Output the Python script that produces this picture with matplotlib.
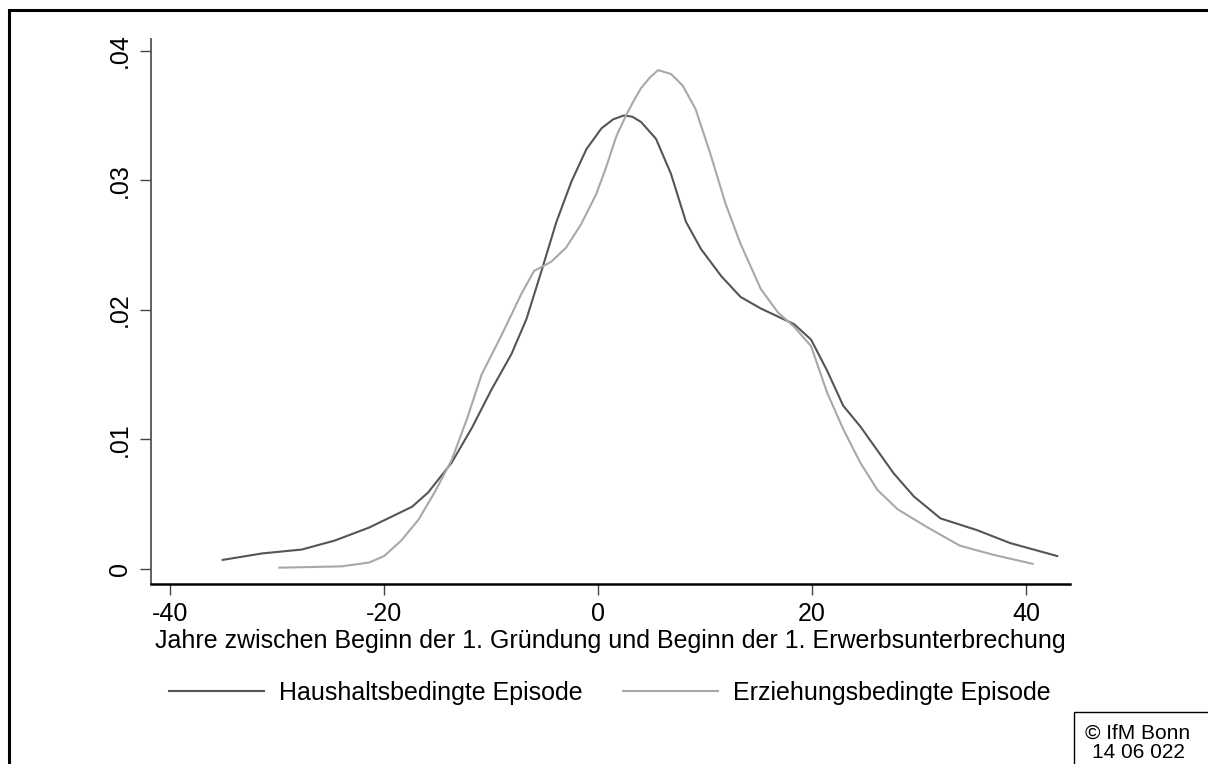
import matplotlib
matplotlib.use("Agg")
from matplotlib import pyplot as plt
from matplotlib.patches import Rectangle

# Kerndichte: Haushaltsbedingte Episode (dunkel)
haushalt_x = [-35.1, -31.4, -27.7, -24.6, -21.4, -17.4, -15.9, -13.7, -11.8, -10.0,
              -8.1, -6.7, -5.3, -3.9, -2.5, -1.1, 0.3, 1.4, 2.4, 3.2, 4.0,
              5.4, 6.8, 8.2, 9.6, 11.5, 13.3, 15.2, 18.3, 19.9, 21.4,
              22.9, 24.5, 27.6, 29.5, 32.0, 35.4, 38.5, 42.9]
haushalt_y = [0.0007, 0.0012, 0.0015, 0.0022, 0.0032, 0.0048, 0.0059, 0.0082, 0.0109, 0.0138,
              0.0166, 0.0193, 0.0230, 0.0268, 0.0299, 0.0324, 0.0340, 0.0347, 0.0350, 0.0349, 0.0345,
              0.0332, 0.0305, 0.0268, 0.0247, 0.0226, 0.0210, 0.0201, 0.0189, 0.0177, 0.0153,
              0.0126, 0.0110, 0.0074, 0.0056, 0.0039, 0.0030, 0.0020, 0.0010]

# Kerndichte: Erziehungsbedingte Episode (hell)
erziehung_x = [-29.8, -24.0, -21.4, -20.0, -18.4, -16.8, -15.3, -13.7, -12.3, -10.9,
               -9.0, -7.2, -6.0, -4.4, -3.0, -1.6, -0.2, 0.7, 1.7, 2.6, 3.3,
               4.0, 4.8, 5.6, 6.8, 7.9, 9.1, 10.5, 11.9, 13.3, 15.2, 16.8,
               18.3, 19.9, 21.4, 22.9, 24.5, 26.1, 28.0, 30.8, 33.8, 36.9, 40.6]
erziehung_y = [0.0001, 0.0002, 0.0005, 0.0010, 0.0022, 0.0038, 0.0059, 0.0084, 0.0115, 0.0150,
               0.0181, 0.0212, 0.0230, 0.0237, 0.0248, 0.0266, 0.0289, 0.0309, 0.0334, 0.0350, 0.0361,
               0.0371, 0.0379, 0.0385, 0.0382, 0.0373, 0.0355, 0.0320, 0.0282, 0.0251, 0.0216, 0.0198,
               0.0187, 0.0172, 0.0136, 0.0108, 0.0082, 0.0061, 0.0046, 0.0032, 0.0018, 0.0011, 0.0004]

x_ticks = [-40, -20, 0, 20, 40]
y_ticks = [0, 0.01, 0.02, 0.03, 0.04]
y_labels = ["0", ".01", ".02", ".03", ".04"]

plt.rcParams['font.family'] = ['Liberation Sans', 'DejaVu Sans']
plt.rcParams['axes.unicode_minus'] = False
fs = 18

fig = plt.figure(figsize=(12.08, 7.64), dpi=100)
ax = fig.add_axes([151 / 1208, 1 - 584 / 764, (1070 - 151) / 1208, (584 - 39) / 764])

ax.plot(haushalt_x, haushalt_y, color="#555555", lw=1.5, label="Haushaltsbedingte Episode")
ax.plot(erziehung_x, erziehung_y, color="#a8a8a8", lw=1.5, label="Erziehungsbedingte Episode")

ax.set_xlim(-41.8, 44.1)
ax.set_ylim(-0.00116, 0.0409)
ax.set_xticks(x_ticks)
ax.set_yticks(y_ticks)
ax.set_yticklabels(y_labels, rotation=90, va="center")
ax.tick_params(axis="both", labelsize=fs, length=8, width=1, color="#444444")
ax.tick_params(axis="y", pad=6)
ax.tick_params(axis="x", pad=5)
ax.spines["top"].set_visible(False)
ax.spines["right"].set_visible(False)
ax.spines["left"].set_color("#555555")
ax.spines["left"].set_linewidth(1.3)
ax.spines["bottom"].set_color("black")
ax.spines["bottom"].set_linewidth(1.8)
ax.set_xlabel("Jahre zwischen Beginn der 1. Gründung und Beginn der 1. Erwerbsunterbrechung",
              fontsize=fs, labelpad=2)

fig.legend(loc="center", bbox_to_anchor=(610 / 1208, 1 - 693 / 764), ncol=2, frameon=False,
           fontsize=fs, handlelength=3.8, handletextpad=0.6, columnspacing=1.6)

# äußerer Rahmen
fig.add_artist(Rectangle((9 / 1208, -0.1), 1.2, 1.1 - 10 / 764, transform=fig.transFigure,
                         fill=False, edgecolor="black", lw=2.2))
# Copyright-Box
fig.add_artist(Rectangle((1074 / 1208, -0.1), 0.2, 0.1 + 52 / 764, transform=fig.transFigure,
                         fill=False, edgecolor="black", lw=1))
fig.text(1138 / 1208, 1 - 733 / 764, "© IfM Bonn", ha="center", va="center", fontsize=15)
fig.text(1138 / 1208, 1 - 753 / 764, "14 06 022", ha="center", va="center", fontsize=15)

fig.savefig("out.png", dpi=100)
